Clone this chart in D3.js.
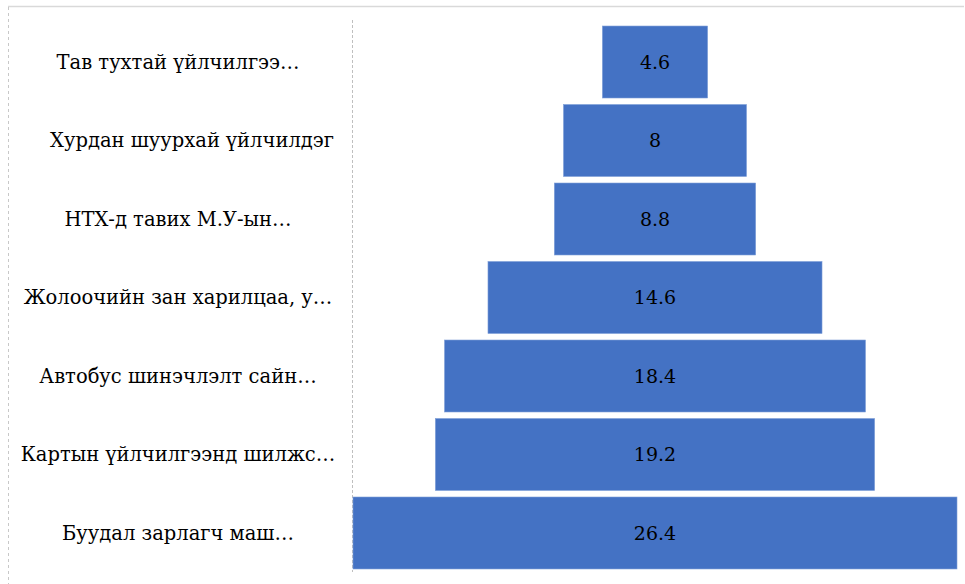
<!DOCTYPE html>
<html>
<head>
<meta charset="utf-8">
<script src="https://cdn.jsdelivr.net/npm/d3@7"></script>
<style>
  html, body { margin: 0; padding: 0; background: #fff; }
  svg { display: block; }
  text { font-family: "DejaVu Serif", serif; }
</style>
</head>
<body>
<svg id="chart" width="965" height="584"></svg>
<script>
const categories = [
  "Тав тухтай үйлчилгээ…",
  "Хурдан шуурхай үйлчилдэг",
  "НТХ-д тавих М.У-ын…",
  "Жолоочийн зан харилцаа, у…",
  "Автобус шинэчлэлт сайн…",
  "Картын үйлчилгээнд шилжс…",
  "Буудал зарлагч маш…"
];
const values = [4.6, 8, 8.8, 14.6, 18.4, 19.2, 26.4];
const valueLabels = ["4.6", "8", "8.8", "14.6", "18.4", "19.2", "26.4"];

const svg = d3.select("#chart");
const centerX = 655;
const labelX = 178;

// frame
svg.append("line").attr("x1", 8).attr("x2", 964).attr("y1", 6.5).attr("y2", 6.5)
  .attr("stroke", "#d9d9d9").attr("stroke-width", 1.5);
svg.append("line").attr("x1", 8.5).attr("x2", 8.5).attr("y1", 7).attr("y2", 584)
  .attr("stroke", "#c8c8c8").attr("stroke-width", 1).attr("stroke-dasharray", "3,3");

const y = d3.scaleBand().domain(categories).range([19.5, 575.5]).paddingInner(0.083).paddingOuter(0.083);
const x = d3.scaleLinear().domain([0, 26.4]).range([0, 604]);

// axis line
svg.append("line").attr("x1", 352.5).attr("x2", 352.5).attr("y1", 20).attr("y2", 572)
  .attr("stroke", "#bfbfbf").attr("stroke-width", 1).attr("stroke-dasharray", "3,2");

const data = categories.map((c, i) => ({ c, v: values[i], t: valueLabels[i] }));

svg.selectAll("rect.bar").data(data).enter().append("rect")
  .attr("class", "bar")
  .attr("x", d => centerX - x(d.v) / 2)
  .attr("width", d => x(d.v))
  .attr("y", d => y(d.c))
  .attr("height", y.bandwidth())
  .attr("fill", "#4472C4")
  .attr("stroke", "#7f9fd8").attr("stroke-width", 0.6);

svg.selectAll("text.val").data(data).enter().append("text")
  .attr("class", "val")
  .attr("x", centerX)
  .attr("y", d => y(d.c) + y.bandwidth() / 2)
  .attr("dy", "0.35em")
  .attr("text-anchor", "middle")
  .style("font-size", "19px")
  .attr("fill", "#000")
  .text(d => d.t);

svg.selectAll("text.cat").data(data).enter().append("text")
  .attr("class", "cat")
  .attr("x", (d, i) => i === 1 ? 192 : labelX)
  .attr("y", d => y(d.c) + y.bandwidth() / 2)
  .attr("dy", "0.35em")
  .attr("text-anchor", "middle")
  .style("font-size", "19.5px")
  .attr("fill", "#000")
  .text(d => d.c);
</script>
</body>
</html>
